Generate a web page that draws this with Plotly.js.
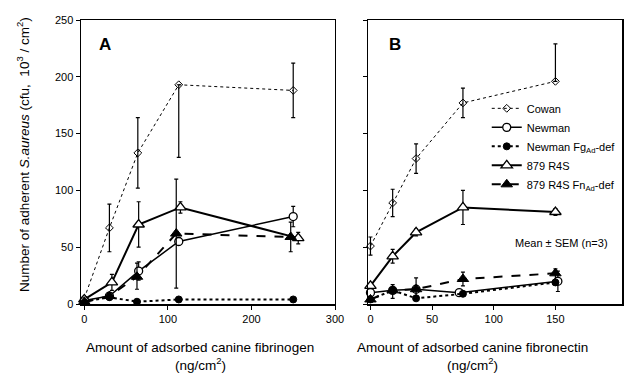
<!DOCTYPE html>
<html>
<head>
<meta charset="utf-8">
<script src="https://cdn.plot.ly/plotly-3.0.1.min.js"></script>
<style>html,body{margin:0;padding:0;background:#fff;}#chart{width:639px;height:373px;}</style>
</head>
<body>
<div id="chart"></div>
<script>
// Panel A: fibrinogen (ng/cm2)
const seriesNames = ["Cowan", "Newman", "Newman Fg<sub>Ad</sub>-def", "879 R4S", "879 R4S Fn<sub>Ad</sub>-def"];

const aCowanX = [0, 30, 64, 113, 250];
const aCowanY = [5, 67, 133, 193, 188];
const aCowanErrP = [0, 21, 31, 0, 24];
const aCowanErrM = [0, 21, 31, 64, 24];

const aNewmanX = [0, 30, 65, 113, 250];
const aNewmanY = [3, 7, 29, 55, 77];
const aNewmanErr = [0, 0, 8, 3, 9];

const aFgX = [0, 30, 63, 113, 250];
const aFgY = [2, 6, 2, 4, 4];
const aFgErr = [0, 0, 0, 0, 1];

const aR4SX = [0, 33, 65, 115, 256];
const aR4SY = [4, 19, 70, 85, 58];
const aR4SErr = [0, 7, 20, 5, 5];

const aFnX = [0, 30, 63, 110, 247];
const aFnY = [2, 7, 24, 62, 59];
const aFnErrP = [0, 0, 12, 48, 13];
const aFnErrM = [0, 0, 11, 48, 13];

// Panel B: fibronectin (ng/cm2)
const bCowanX = [0, 18, 37, 75, 150];
const bCowanY = [51, 89, 128, 177, 196];
const bCowanErrP = [8, 12, 13, 13, 33];
const bCowanErrM = [8, 12, 13, 13, 0];

const bNewmanX = [0, 18, 37, 72, 152];
const bNewmanY = [10, 12, 13, 10, 20];
const bNewmanErr = [0, 0, 0, 0, 9];

const bFgX = [0, 18, 37, 75, 150];
const bFgY = [4, 12, 5, 9, 19];
const bFgErr = [0, 0, 0, 0, 0];

const bR4SX = [0, 18, 37, 75, 150];
const bR4SY = [16, 42, 63, 85, 81];
const bR4SErr = [0, 6, 3, 15, 3];

const bFnX = [0, 18, 37, 75, 150];
const bFnY = [4, 12, 13, 22, 27];
const bFnErrP = [0, 5, 10, 6, 4];
const bFnErrM = [0, 7, 6, 6, 6];

const yTicks = [0, 50, 100, 150, 200, 250];
const aXTicks = [0, 100, 200, 300];
const bXTicks = [0, 50, 100, 150];

const styles = [
  {line: {color: '#000', width: 1, dash: 'dot'}, marker: {symbol: 'diamond-open', size: 6, color: '#000', line: {width: 1, color: '#000'}}},
  {line: {color: '#000', width: 1.5, dash: 'solid'}, marker: {symbol: 'circle', size: 8, color: '#fff', line: {width: 1.3, color: '#000'}}},
  {line: {color: '#000', width: 2, dash: 'dot'}, marker: {symbol: 'circle', size: 7, color: '#000', line: {width: 1, color: '#000'}}},
  {line: {color: '#000', width: 2, dash: 'solid'}, marker: {symbol: 'triangle-up', size: 10, color: '#fff', line: {width: 1.3, color: '#000'}}},
  {line: {color: '#000', width: 2, dash: 'dash'}, marker: {symbol: 'triangle-up', size: 10, color: '#000', line: {width: 1, color: '#000'}}}
];

function err(p, m) {
  return {type: 'data', symmetric: false, array: p, arrayminus: m, color: '#000', thickness: 1.2, width: 2};
}
function tr(i, x, y, e, xa, show) {
  return Object.assign({
    type: 'scatter', mode: 'lines+markers', name: seriesNames[i], x: x, y: y,
    xaxis: xa, yaxis: xa === 'x2' ? 'y2' : 'y', error_y: e, showlegend: show, cliponaxis: false
  }, styles[i]);
}

const data = [
  tr(0, aCowanX, aCowanY, err(aCowanErrP, aCowanErrM), 'x', true),
  tr(1, aNewmanX, aNewmanY, err(aNewmanErr, aNewmanErr), 'x', true),
  tr(2, aFgX, aFgY, err(aFgErr, aFgErr), 'x', true),
  tr(3, aR4SX, aR4SY, err(aR4SErr, aR4SErr), 'x', true),
  tr(4, aFnX, aFnY, err(aFnErrP, aFnErrM), 'x', true),
  tr(0, bCowanX, bCowanY, err(bCowanErrP, bCowanErrM), 'x2', false),
  tr(1, bNewmanX, bNewmanY, err(bNewmanErr, bNewmanErr), 'x2', false),
  tr(2, bFgX, bFgY, err(bFgErr, bFgErr), 'x2', false),
  tr(3, bR4SX, bR4SY, err(bR4SErr, bR4SErr), 'x2', false),
  tr(4, bFnX, bFnY, err(bFnErrP, bFnErrM), 'x2', false)
];

const font = {family: 'Liberation Sans, Arial, sans-serif', color: '#000'};
const axBase = {showline: true, linecolor: '#000', linewidth: 1.5, mirror: true, showgrid: false, zeroline: false,
  ticks: 'outside', ticklen: 4, tickcolor: '#000', tickfont: {size: 11, family: font.family, color: '#000'}};

const titleFont = {size: 13.5, family: font.family, color: '#000'};

const layout = {
  width: 639, height: 373,
  margin: {l: 81, r: 17, t: 20, b: 69},
  paper_bgcolor: '#fff', plot_bgcolor: '#fff',
  font: font,
  showlegend: true,
  legend: {x: 0.75, y: 0.74, xanchor: 'left', yanchor: 'top', bgcolor: 'rgba(0,0,0,0)',
    font: {size: 11, family: font.family, color: '#000'}, tracegroupgap: 0, itemwidth: 30},
  xaxis: Object.assign({}, axBase, {domain: [0, 0.4695], range: [-4, 300], tickvals: aXTicks, anchor: 'y'}),
  yaxis: Object.assign({}, axBase, {range: [0, 250], tickvals: yTicks, anchor: 'x'}),
  xaxis2: Object.assign({}, axBase, {domain: [0.5305, 1], range: [-2, 204], tickvals: bXTicks, anchor: 'y2'}),
  yaxis2: Object.assign({}, axBase, {range: [0, 250], tickvals: yTicks, showticklabels: false, anchor: 'x2'}),
  annotations: [
    {text: '<b>A</b>', xref: 'x', yref: 'y', x: 25, y: 228, showarrow: false, font: {size: 17, family: font.family, color: '#000'}},
    {text: '<b>B</b>', xref: 'x2', yref: 'y2', x: 20, y: 228, showarrow: false, font: {size: 17, family: font.family, color: '#000'}},
    {text: 'Mean ± SEM (n=3)', xref: 'x2', yref: 'y2', x: 155, y: 54, showarrow: false, font: {size: 11, family: font.family, color: '#000'}},
    {text: 'Number of adherent <i>S.aureus</i> (cfu,  10<sup>3</sup> / cm<sup>2</sup>)', xref: 'paper', yref: 'paper',
      x: -0.107, y: 0.525, textangle: -90, showarrow: false, xanchor: 'center', yanchor: 'middle', font: titleFont},
    {text: 'Amount of adsorbed canine fibrinogen', xref: 'paper', yref: 'paper',
      x: 0.22, y: -0.152, showarrow: false, xanchor: 'center', yanchor: 'middle', font: titleFont},
    {text: '(ng/cm<sup>2</sup>)', xref: 'paper', yref: 'paper',
      x: 0.22, y: -0.212, showarrow: false, xanchor: 'center', yanchor: 'middle', font: titleFont},
    {text: 'Amount of adsorbed canine fibronectin', xref: 'paper', yref: 'paper',
      x: 0.723, y: -0.152, showarrow: false, xanchor: 'center', yanchor: 'middle', font: titleFont},
    {text: '(ng/cm<sup>2</sup>)', xref: 'paper', yref: 'paper',
      x: 0.723, y: -0.212, showarrow: false, xanchor: 'center', yanchor: 'middle', font: titleFont}
  ]
};

Plotly.newPlot('chart', data, layout, {staticPlot: true, displayModeBar: false});
</script>
</body>
</html>
